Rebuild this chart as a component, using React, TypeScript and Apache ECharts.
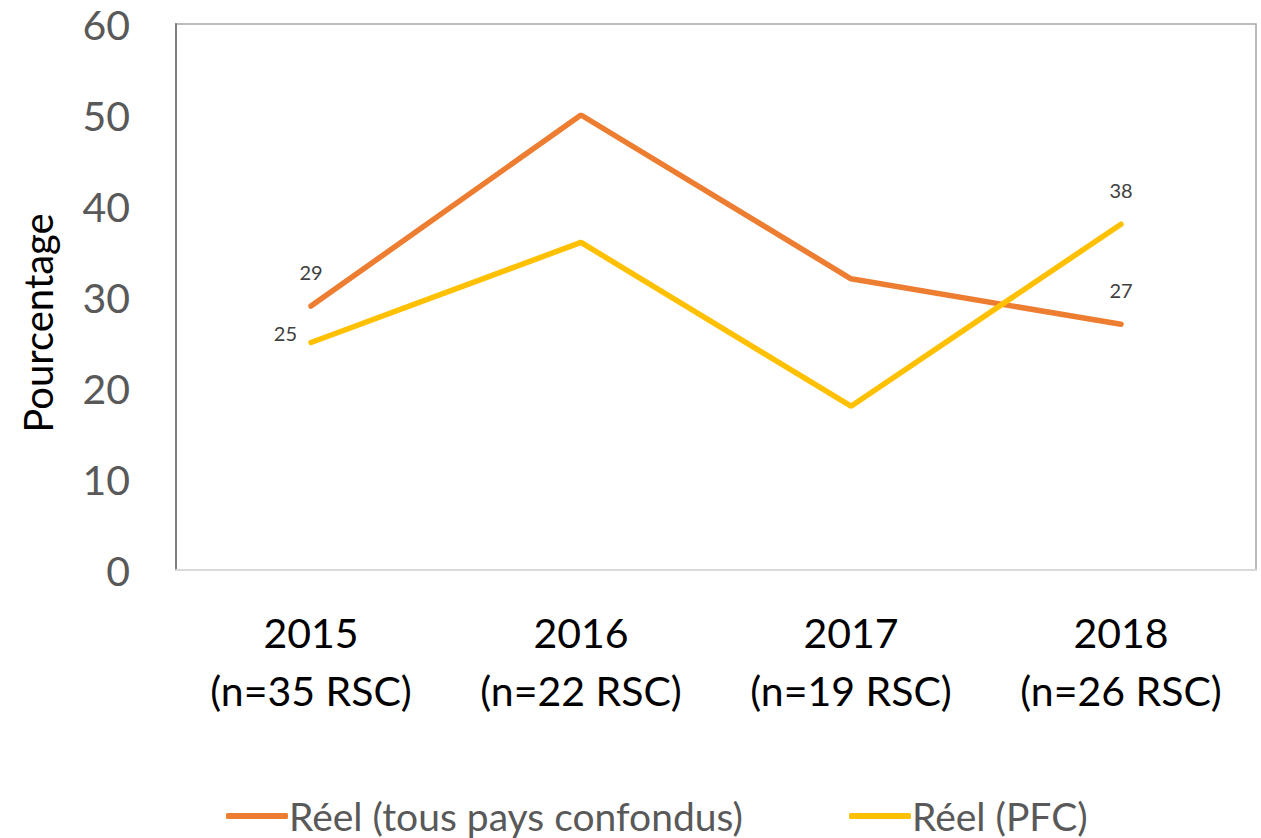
import React, { useEffect, useRef } from "react";
import * as echarts from "echarts";

const categories = ["2015\n(n=35 RSC)", "2016\n(n=22 RSC)", "2017\n(n=19 RSC)", "2018\n(n=26 RSC)"];
const seriesNames = ["Réel (tous pays confondus)", "Réel (PFC)"];
const reelTous = [29, 50, 32, 27];
const reelPFC = [25, 36, 18, 38];
const yTicks = { min: 0, max: 60, interval: 10 };
const yTitle = "Pourcentage";

const FONT = "Lato, 'Open Sans', sans-serif";

export default function App() {
  const ref = useRef<HTMLDivElement>(null);
  useEffect(() => {
    document.body.style.margin = "0";
    const chart = echarts.init(ref.current!, null, { renderer: "svg" });
    const lbl = (pos: string, offset: number[] = [0, 0]) => ({
      show: true,
      position: pos,
      distance: 24,
      offset,
      fontSize: 20,
      color: "#404040",
      fontFamily: FONT,
    });
    const mkData = (vals: number[], labels: any[]) =>
      vals.map((v, i) => (labels[i] ? { value: v, label: labels[i] } : { value: v, label: { show: false } }));
    chart.setOption({
      animation: false,
      textStyle: { fontFamily: FONT },
      grid: {
        left: 176,
        right: 5,
        top: 24,
        bottom: 268,
        show: true,
        borderColor: "#a6a6a6",
        borderWidth: 1.5,
      },
      graphic: [
        {
          type: "text",
          x: 38,
          y: 323,
          rotation: Math.PI / 2,
          style: {
            text: yTitle,
            fontSize: 40,
            fontFamily: FONT,
            fill: "#000000",
            align: "center",
            verticalAlign: "middle",
          },
        },
      ],
      xAxis: {
        type: "category",
        data: categories,
        boundaryGap: true,
        axisLine: { show: true, lineStyle: { color: "#d9d9d9", width: 2 } },
        axisTick: { show: false },
        axisLabel: {
          fontSize: 41,
          lineHeight: 58,
          color: "#000000",
          margin: 33,
          fontFamily: FONT,
        },
        splitLine: { show: false },
      },
      yAxis: {
        type: "value",
        min: yTicks.min,
        max: yTicks.max,
        interval: yTicks.interval,
        axisLine: { show: true, lineStyle: { color: "#7f7f7f", width: 2 } },
        axisTick: { show: false },
        splitLine: { show: false },
        axisLabel: { fontSize: 41, color: "#595959", margin: 46, fontFamily: FONT },
      },
      legend: {
        left: 226,
        top: 796,
        padding: 0,
        itemWidth: 62,
        itemHeight: 6,
        itemGap: 106,
        icon: "roundRect",
        data: seriesNames,
        textStyle: {
          fontSize: 39,
          lineHeight: 40,
          color: "#595959",
          fontFamily: FONT,
          padding: [0, 0, 0, -4],
        },
      },
      series: [
        {
          name: seriesNames[0],
          type: "line",
          data: mkData(reelTous, [lbl("top"), null, null, lbl("top")]),
          symbol: "circle",
          symbolSize: 0.01,
          showSymbol: true,
          lineStyle: { color: "#ED7D31", width: 5.5, cap: "round" },
          itemStyle: { color: "#ED7D31" },
        },
        {
          name: seriesNames[1],
          type: "line",
          data: mkData(reelPFC, [{ ...lbl("left"), distance: 14, offset: [0, -10] }, null, null, lbl("top")]),
          symbol: "circle",
          symbolSize: 0.01,
          showSymbol: true,
          lineStyle: { color: "#FFC000", width: 5.5, cap: "round" },
          itemStyle: { color: "#FFC000" },
        },
      ],
    });
    return () => chart.dispose();
  }, []);
  return <div ref={ref} style={{ width: 1261, height: 838 }} />;
}
